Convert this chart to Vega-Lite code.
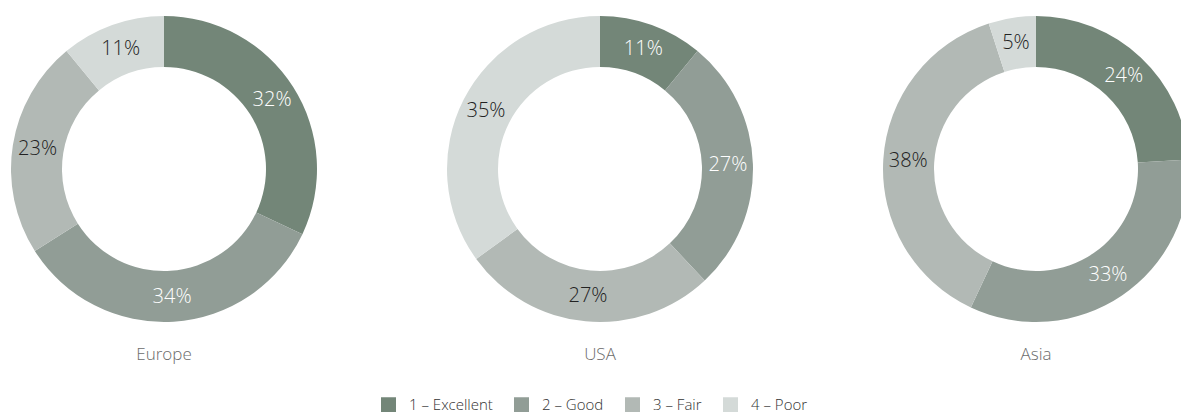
{
  "$schema": "https://vega.github.io/schema/vega-lite/v6.json",
  "padding": {"left": 11, "top": 16, "right": 0, "bottom": 0},
  "background": "white",
  "data": {"values": [
    {"region": "Europe", "rating": "1 – Excellent", "rank": 1, "value": 32, "label": "32%"},
    {"region": "Europe", "rating": "2 – Good", "rank": 2, "value": 34, "label": "34%"},
    {"region": "Europe", "rating": "3 – Fair", "rank": 3, "value": 23, "label": "23%"},
    {"region": "Europe", "rating": "4 – Poor", "rank": 4, "value": 11, "label": "11%"},
    {"region": "USA", "rating": "1 – Excellent", "rank": 1, "value": 11, "label": "11%"},
    {"region": "USA", "rating": "2 – Good", "rank": 2, "value": 27, "label": "27%"},
    {"region": "USA", "rating": "3 – Fair", "rank": 3, "value": 27, "label": "27%"},
    {"region": "USA", "rating": "4 – Poor", "rank": 4, "value": 35, "label": "35%"},
    {"region": "Asia", "rating": "1 – Excellent", "rank": 1, "value": 24, "label": "24%"},
    {"region": "Asia", "rating": "2 – Good", "rank": 2, "value": 33, "label": "33%"},
    {"region": "Asia", "rating": "3 – Fair", "rank": 3, "value": 38, "label": "38%"},
    {"region": "Asia", "rating": "4 – Poor", "rank": 4, "value": 5, "label": "5%"}
  ]},
  "facet": {
    "column": {
      "field": "region", "type": "nominal", "sort": ["Europe", "USA", "Asia"],
      "header": {"title": null, "labelOrient": "bottom", "labelPadding": 25, "labelFontSize": 17, "labelColor": "#6b6b6b", "labelFont": "Open Sans", "labelFontWeight": 300, "labelBaseline": "top"}
    }
  },
  "spacing": 130,
  "spec": {
    "width": 306,
    "height": 306,
    "encoding": {
      "theta": {"field": "value", "type": "quantitative", "stack": true},
      "order": {"field": "rank", "type": "ordinal"}
    },
    "layer": [
      {
        "mark": {"type": "arc", "innerRadius": 102, "outerRadius": 153},
        "encoding": {
          "color": {
            "field": "rating", "type": "nominal",
            "scale": {"domain": ["1 – Excellent", "2 – Good", "3 – Fair", "4 – Poor"], "range": ["#738678", "#919d96", "#b2b9b5", "#d4dad8"]},
            "legend": {
              "orient": "none", "legendX": 370, "legendY": 381, "direction": "horizontal", "title": null,
              "symbolType": "square", "symbolSize": 225, "symbolStrokeWidth": 0, "symbolOpacity": 1,
              "labelFontSize": 15, "labelFont": "Open Sans", "labelFontWeight": 300, "labelColor": "#333333",
              "columnPadding": 21, "labelOffset": 13
            }
          }
        }
      },
      {
        "mark": {"type": "text", "radius": 128, "fontSize": 20, "font": "Open Sans", "fontWeight": 300},
        "encoding": {
          "text": {"field": "label", "type": "nominal"},
          "color": {"condition": {"test": "datum.rank <= 2", "value": "#ffffff"}, "value": "#222222"}
        }
      }
    ]
  },
  "config": {"view": {"stroke": null}}
}
